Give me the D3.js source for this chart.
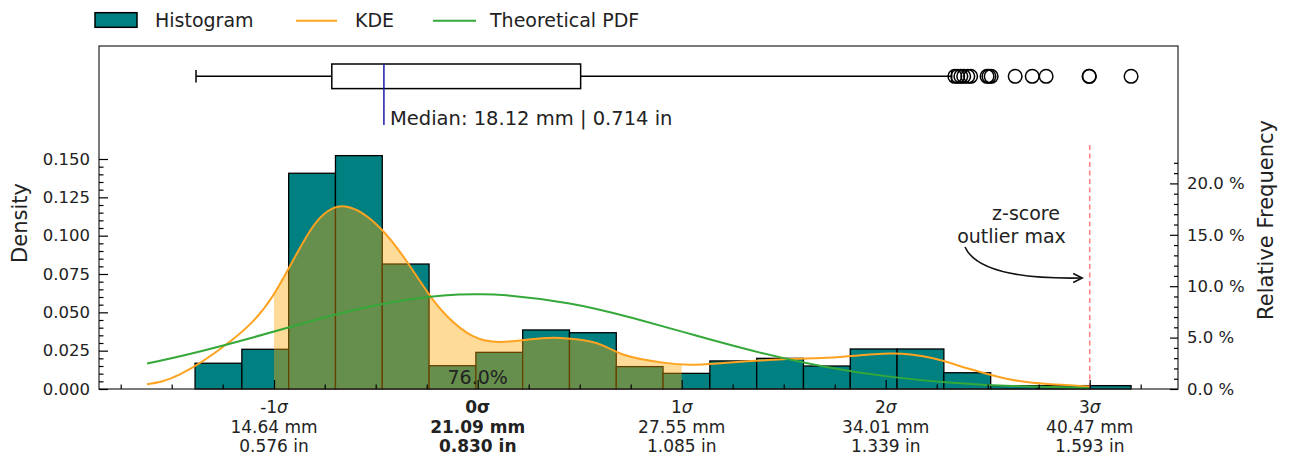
<!DOCTYPE html>
<html><head><meta charset="utf-8">
<script src="https://cdn.jsdelivr.net/npm/d3@7"></script>
<style>
body{margin:0;background:#fff;}
svg{display:block;font-family:"DejaVu Sans",sans-serif;}
</style>
</head><body>
<svg id="c" width="1290" height="457"></svg>
<script>
// ---------------- data ----------------
const sigmaTicks = [-1, 0, 1, 2, 3];
const tickMM = [14.64, 21.09, 27.55, 34.01, 40.47];
const tickIN = ["0.576", "0.830", "1.085", "1.339", "1.593"];
const meanMM = 21.09, sdMM = 6.46;

const binStart = 12.14, binEnd = 41.78;
const histDensity = [0.0168, 0.0259, 0.1407, 0.1522, 0.0815, 0.0152, 0.0239, 0.0385, 0.0367, 0.0146,
                     0.0102, 0.0183, 0.0200, 0.0150, 0.0261, 0.0261, 0.0106, 0.0022, 0.0022, 0.0022];

const kdeX = [10.62, 11.66, 13.25, 14.61, 15.87, 16.95, 18.00, 18.85, 19.52, 20.12, 20.94, 21.80,
              22.70, 23.70, 24.87, 25.69, 26.96, 27.80, 28.67, 30.76, 32.34, 34.15, 35.51, 36.59, 37.63, 38.67, 40.45];
const kdeY = [0.0031, 0.0095, 0.0310, 0.0610, 0.1058, 0.1189, 0.1050, 0.0830, 0.0625, 0.0475, 0.0345, 0.0307,
              0.0323, 0.0333, 0.0298, 0.0225, 0.0172, 0.0158, 0.0166, 0.0194, 0.0206, 0.0232, 0.0200, 0.0135, 0.0077, 0.0040, 0.0016];

const pdfX = [10.62, 12, 14, 16, 18, 20, 21.09, 22, 24, 26, 28, 30, 32, 34, 36, 38, 40.45];
const pdfY = [0.0166, 0.0230, 0.0338, 0.0453, 0.0551, 0.0609, 0.0618, 0.0611, 0.0558, 0.0463, 0.0349, 0.0239, 0.0148, 0.0084, 0.0043, 0.0020, 0.0007];

const boxStats = [12.17, 16.47, 18.12, 24.35, 36.1]; // whisker low, q1, median, q3, whisker high
const outliers = [36.20, 36.29, 36.39, 36.48, 36.61, 36.70, 37.22, 37.28, 37.35, 38.11, 38.65, 39.09, 40.45, 40.46, 41.78];

const densityTicks = [0, 0.025, 0.05, 0.075, 0.1, 0.125, 0.15];
const pctTicks = [0, 5, 10, 15, 20];
const shadeRange = [14.64, 27.55];
const shadeLabel = "76.0%";
const outlierMaxMM = 40.47;

// ---------------- layout ----------------
const X0 = 99, X1 = 1178, YT = 46, YB = 389;
const svg = d3.select("#c");
const x = d3.scaleLinear().domain([9.098, 43.266]).range([X0, X1]);
const y = d3.scaleLinear().domain([0, 0.15]).range([YB, 159]);
const yR = d3.scaleLinear().domain([0, 20]).range([YB, 183.4]);
const teal = "#008080", orange = "#ffa21f", green = "#35a83a";

// histogram bars
const bw = (binEnd - binStart) / histDensity.length;
svg.append("g").selectAll("rect").data(histDensity).join("rect")
  .attr("x", (d, i) => x(binStart + i * bw))
  .attr("width", (d, i) => x(binStart + (i + 1) * bw) - x(binStart + i * bw))
  .attr("y", d => y(d))
  .attr("height", d => YB - y(d))
  .attr("fill", teal).attr("stroke", "#000").attr("stroke-width", 1.3);

// KDE shaded area (-1σ .. 1σ)
const kdePts = kdeX.map((v, i) => [v, kdeY[i]]);
const pdfPts = pdfX.map((v, i) => [v, pdfY[i]]);
const kCurve = d3.curveNatural;
const pCurve = d3.curveNatural;
svg.append("clipPath").attr("id", "shade").append("rect")
  .attr("x", x(shadeRange[0])).attr("y", 0)
  .attr("width", x(shadeRange[1]) - x(shadeRange[0])).attr("height", YB);
svg.append("path").datum(kdePts)
  .attr("clip-path", "url(#shade)")
  .attr("d", d3.area().x(d => x(d[0])).y0(YB).y1(d => y(d[1])).curve(kCurve))
  .attr("fill", "#ffa500").attr("fill-opacity", 0.4);

// red dashed z-score line
svg.append("line")
  .attr("x1", x(outlierMaxMM)).attr("x2", x(outlierMaxMM))
  .attr("y1", 145).attr("y2", YB)
  .attr("stroke", "#ff6a6a").attr("stroke-opacity", 0.85).attr("stroke-width", 1.5)
  .attr("stroke-dasharray", "5,3.5");

// KDE and PDF lines
svg.append("path").datum(kdePts)
  .attr("d", d3.line().x(d => x(d[0])).y(d => y(d[1])).curve(kCurve))
  .attr("fill", "none").attr("stroke", orange).attr("stroke-width", 2);
svg.append("path").datum(pdfPts)
  .attr("d", d3.line().x(d => x(d[0])).y(d => y(d[1])).curve(pCurve))
  .attr("fill", "none").attr("stroke", green).attr("stroke-width", 2);

// shade label
svg.append("text").attr("x", x(meanMM)).attr("y", 383.5).attr("text-anchor", "middle")
  .attr("font-size", 19).attr("fill", "#222").text(shadeLabel);

// frame
svg.append("rect").attr("x", X0).attr("y", YT).attr("width", X1 - X0).attr("height", YB - YT)
  .attr("fill", "none").attr("stroke", "#222").attr("stroke-width", 1.2);

// left axis
const gL = svg.append("g").attr("transform", `translate(${X0},0)`);
gL.call(d3.axisLeft(y).tickValues(densityTicks).tickSize(-9).tickSizeOuter(0).tickPadding(9)
  .tickFormat(d3.format(".3f")));
const minorL = d3.range(1, 31).map(i => i * 0.005).filter((v, i) => (i + 1) % 5 !== 0);
gL.append("g").call(d3.axisLeft(y).tickValues(minorL).tickSize(-4.5).tickSizeOuter(0).tickFormat(""));
// right axis
const gR = svg.append("g").attr("transform", `translate(${X1},0)`);
gR.call(d3.axisRight(yR).tickValues(pctTicks).tickSize(-8).tickSizeOuter(0).tickPadding(9)
  .tickFormat(d => d.toFixed(1) + " %"));
const minorR = d3.range(1, 23).filter(v => v % 5 !== 0);
gR.append("g").call(d3.axisRight(yR).tickValues(minorR).tickSize(-4).tickSizeOuter(0).tickFormat(""));
// bottom axis ticks
const gB = svg.append("g").attr("transform", `translate(0,${YB})`);
gB.call(d3.axisBottom(x).tickValues(tickMM).tickSize(-9).tickSizeOuter(0).tickFormat(""));
const minorB = d3.range(-7, 14).filter(k => k % 4 !== 0).map(k => meanMM + k * sdMM / 4)
  .filter(v => x(v) > X0 && x(v) < X1);
gB.append("g").call(d3.axisBottom(x).tickValues(minorB).tickSize(-4.5).tickSizeOuter(0).tickFormat(""));
svg.selectAll(".domain").remove();
svg.selectAll(".tick line").attr("stroke", "#000").attr("stroke-width", 1.2);
gL.selectAll(".tick text").attr("font-size", 16.5).attr("fill", "#222").attr("font-family", "DejaVu Sans");
gR.selectAll(".tick text").attr("font-size", 16.5).attr("fill", "#222").attr("font-family", "DejaVu Sans");

// bottom multi-line labels
sigmaTicks.forEach((s, i) => {
  const cx = x(tickMM[i]);
  const t = svg.append("text").attr("text-anchor", "middle").attr("font-size", 17).attr("fill", "#222")
    .attr("y", 413.3);
  if (s === 0) t.attr("font-weight", "bold");
  const l1 = t.append("tspan").attr("x", cx).attr("y", 413.3);
  l1.append("tspan").text(String(s));
  l1.append("tspan").attr("font-style", s === 0 ? "normal" : "italic").text("σ");
  t.append("tspan").attr("x", cx).attr("y", 432.6).text(tickMM[i].toFixed(2) + " mm");
  t.append("tspan").attr("x", cx).attr("y", 451.8).text(tickIN[i] + " in");
});

// axis titles
svg.append("text").attr("transform", "translate(26.5,223) rotate(-90)").attr("text-anchor", "middle")
  .attr("font-size", 21).attr("fill", "#222").text("Density");
svg.append("text").attr("transform", "translate(1273,220) rotate(-90)").attr("text-anchor", "middle")
  .attr("font-size", 21).attr("fill", "#222").text("Relative Frequency");

// boxplot
const by = 76.3, bh = 12.3;
const bp = svg.append("g");
bp.append("line").attr("x1", x(boxStats[0])).attr("x2", x(boxStats[1])).attr("y1", by).attr("y2", by)
  .attr("stroke", "#000").attr("stroke-width", 1.5);
bp.append("line").attr("x1", x(boxStats[3])).attr("x2", x(boxStats[4])).attr("y1", by).attr("y2", by)
  .attr("stroke", "#000").attr("stroke-width", 1.5);
[boxStats[0], boxStats[4]].forEach(v => bp.append("line").attr("x1", x(v)).attr("x2", x(v))
  .attr("y1", by - 6.3).attr("y2", by + 6.3).attr("stroke", "#000").attr("stroke-width", 1.5));
bp.append("rect").attr("x", x(boxStats[1])).attr("y", by - bh)
  .attr("width", x(boxStats[3]) - x(boxStats[1])).attr("height", 2 * bh)
  .attr("fill", "#fff").attr("stroke", "#000").attr("stroke-width", 1.5);
bp.append("line").attr("x1", x(boxStats[2])).attr("x2", x(boxStats[2])).attr("y1", by - bh).attr("y2", 125)
  .attr("stroke", "#1c1ca8").attr("stroke-width", 1.5);
bp.selectAll("circle").data(outliers).join("circle")
  .attr("cx", d => x(d)).attr("cy", by).attr("r", 6.8)
  .attr("fill", "none").attr("stroke", "#000").attr("stroke-width", 1.5);
svg.append("text").attr("x", 390).attr("y", 125).attr("font-size", 19.5).attr("fill", "#222")
  .text("Median: 18.12 mm | 0.714 in");

// annotation
svg.append("text").attr("x", 1026).attr("y", 220).attr("text-anchor", "middle")
  .attr("font-size", 19).attr("fill", "#222").text("z-score");
svg.append("text").attr("x", 1011.5).attr("y", 243.3).attr("text-anchor", "middle")
  .attr("font-size", 19).attr("fill", "#222").text("outlier max");
const tipX = x(outlierMaxMM) - 7.5, tipY = 278;
svg.append("path").attr("d", `M965,247 Q980,280 ${tipX},${tipY}`)
  .attr("fill", "none").attr("stroke", "#111").attr("stroke-width", 1.6);
svg.append("path").attr("d", `M${tipX - 9},${tipY - 4.5} L${tipX},${tipY} L${tipX - 9},${tipY + 4.5}`)
  .attr("fill", "none").attr("stroke", "#111").attr("stroke-width", 1.6);

// legend
const lg = svg.append("g");
lg.append("rect").attr("x", 95).attr("y", 12.7).attr("width", 42).attr("height", 14.6)
  .attr("fill", teal).attr("stroke", "#000").attr("stroke-width", 1.5);
lg.append("text").attr("x", 155).attr("y", 27.3).attr("font-size", 19).attr("fill", "#222").text("Histogram");
lg.append("line").attr("x1", 296).attr("x2", 337).attr("y1", 20.7).attr("y2", 20.7)
  .attr("stroke", orange).attr("stroke-width", 2);
lg.append("text").attr("x", 355).attr("y", 27.3).attr("font-size", 19).attr("fill", "#222").text("KDE");
lg.append("line").attr("x1", 433).attr("x2", 476).attr("y1", 20.7).attr("y2", 20.7)
  .attr("stroke", green).attr("stroke-width", 2);
lg.append("text").attr("x", 490).attr("y", 27.3).attr("font-size", 19).attr("fill", "#222").text("Theoretical PDF");
</script>
</body></html>
